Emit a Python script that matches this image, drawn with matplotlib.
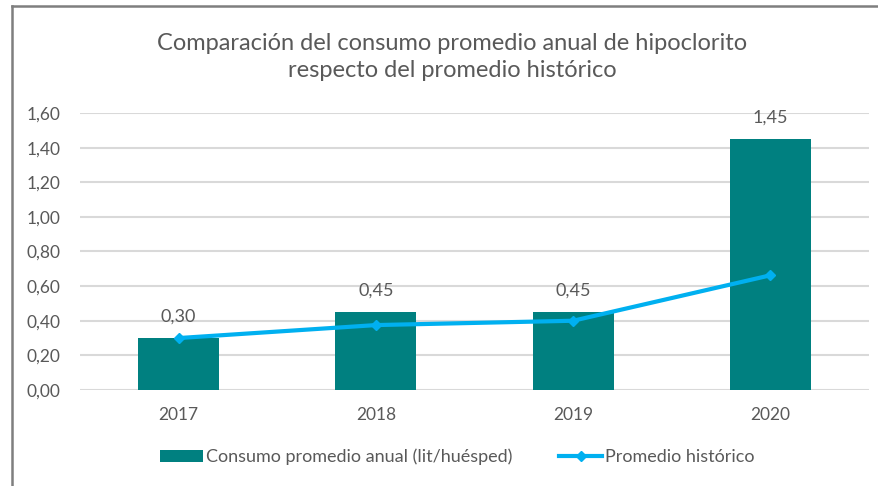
import matplotlib
matplotlib.use("Agg")
import matplotlib.pyplot as plt
from matplotlib.lines import Line2D

plt.rcParams['font.family'] = ['Lato', 'DejaVu Sans']

years = ["2017", "2018", "2019", "2020"]
consumo = [0.30, 0.45, 0.45, 1.45]
historico = [0.30, 0.375, 0.40, 0.6625]
yticks = [0.0, 0.2, 0.4, 0.6, 0.8, 1.0, 1.2, 1.4, 1.6]

title = "Comparación del consumo promedio anual de hipoclorito\nrespecto del promedio histórico"
bar_label = "Consumo promedio anual (lit/huésped)"
line_label = "Promedio histórico"

text_col = "#595959"
bar_col = "#008080"
line_col = "#00B0F0"

fig = plt.figure(figsize=(8.79, 4.86), dpi=100)
ax = fig.add_axes([80/879, 1-390/486, (869-80)/879, (390-113)/486])

x = list(range(len(years)))
ax.bar(x, consumo, width=0.41, color=bar_col, zorder=2, label=bar_label)
ax.plot(x, historico, color=line_col, lw=3, marker='D', ms=5, zorder=3, label=line_label)

for xi, v in zip(x, consumo):
    ax.text(xi, v + 0.075, f"{v:.2f}".replace('.', ','), ha='center', va='bottom',
            fontsize=13, color=text_col)

ax.set_xlim(-0.5, 3.5)
ax.set_ylim(0, 1.6)
ax.set_yticks(yticks)
ax.set_yticklabels([f"{t:.2f}".replace('.', ',') for t in yticks], fontsize=12.5, color=text_col)
ax.set_xticks(x)
ax.set_xticklabels(years, fontsize=12.5, color=text_col)
ax.tick_params(axis='both', length=0)
ax.tick_params(axis='y', pad=14)
ax.tick_params(axis='x', pad=12)
for s in ax.spines.values():
    s.set_visible(False)
ax.yaxis.grid(True, color='#d9d9d9', lw=1.5, zorder=0)
ax.set_axisbelow(True)

fig.text(452/879, 1-57/486, title, ha='center', va='center', fontsize=17,
         color=text_col, linespacing=1.3)

handles, labels = ax.get_legend_handles_labels()
order = [labels.index(bar_label), labels.index(line_label)]
leg = fig.legend([handles[i] for i in order], [labels[i] for i in order],
                 loc='center', bbox_to_anchor=(457/879, 1-457/486), ncol=2, frameon=False,
                 fontsize=13, handlelength=2.4, handletextpad=0.15, columnspacing=2.6)
for t in leg.get_texts():
    t.set_color(text_col)

fig.add_artist(Line2D([12/879, 1], [1-6/486, 1-6/486], color='#7f7f7f', lw=1.8))
fig.add_artist(Line2D([12/879, 12/879], [0, 1-6/486], color='#7f7f7f', lw=1.8))

fig.savefig("out.png", dpi=100)
